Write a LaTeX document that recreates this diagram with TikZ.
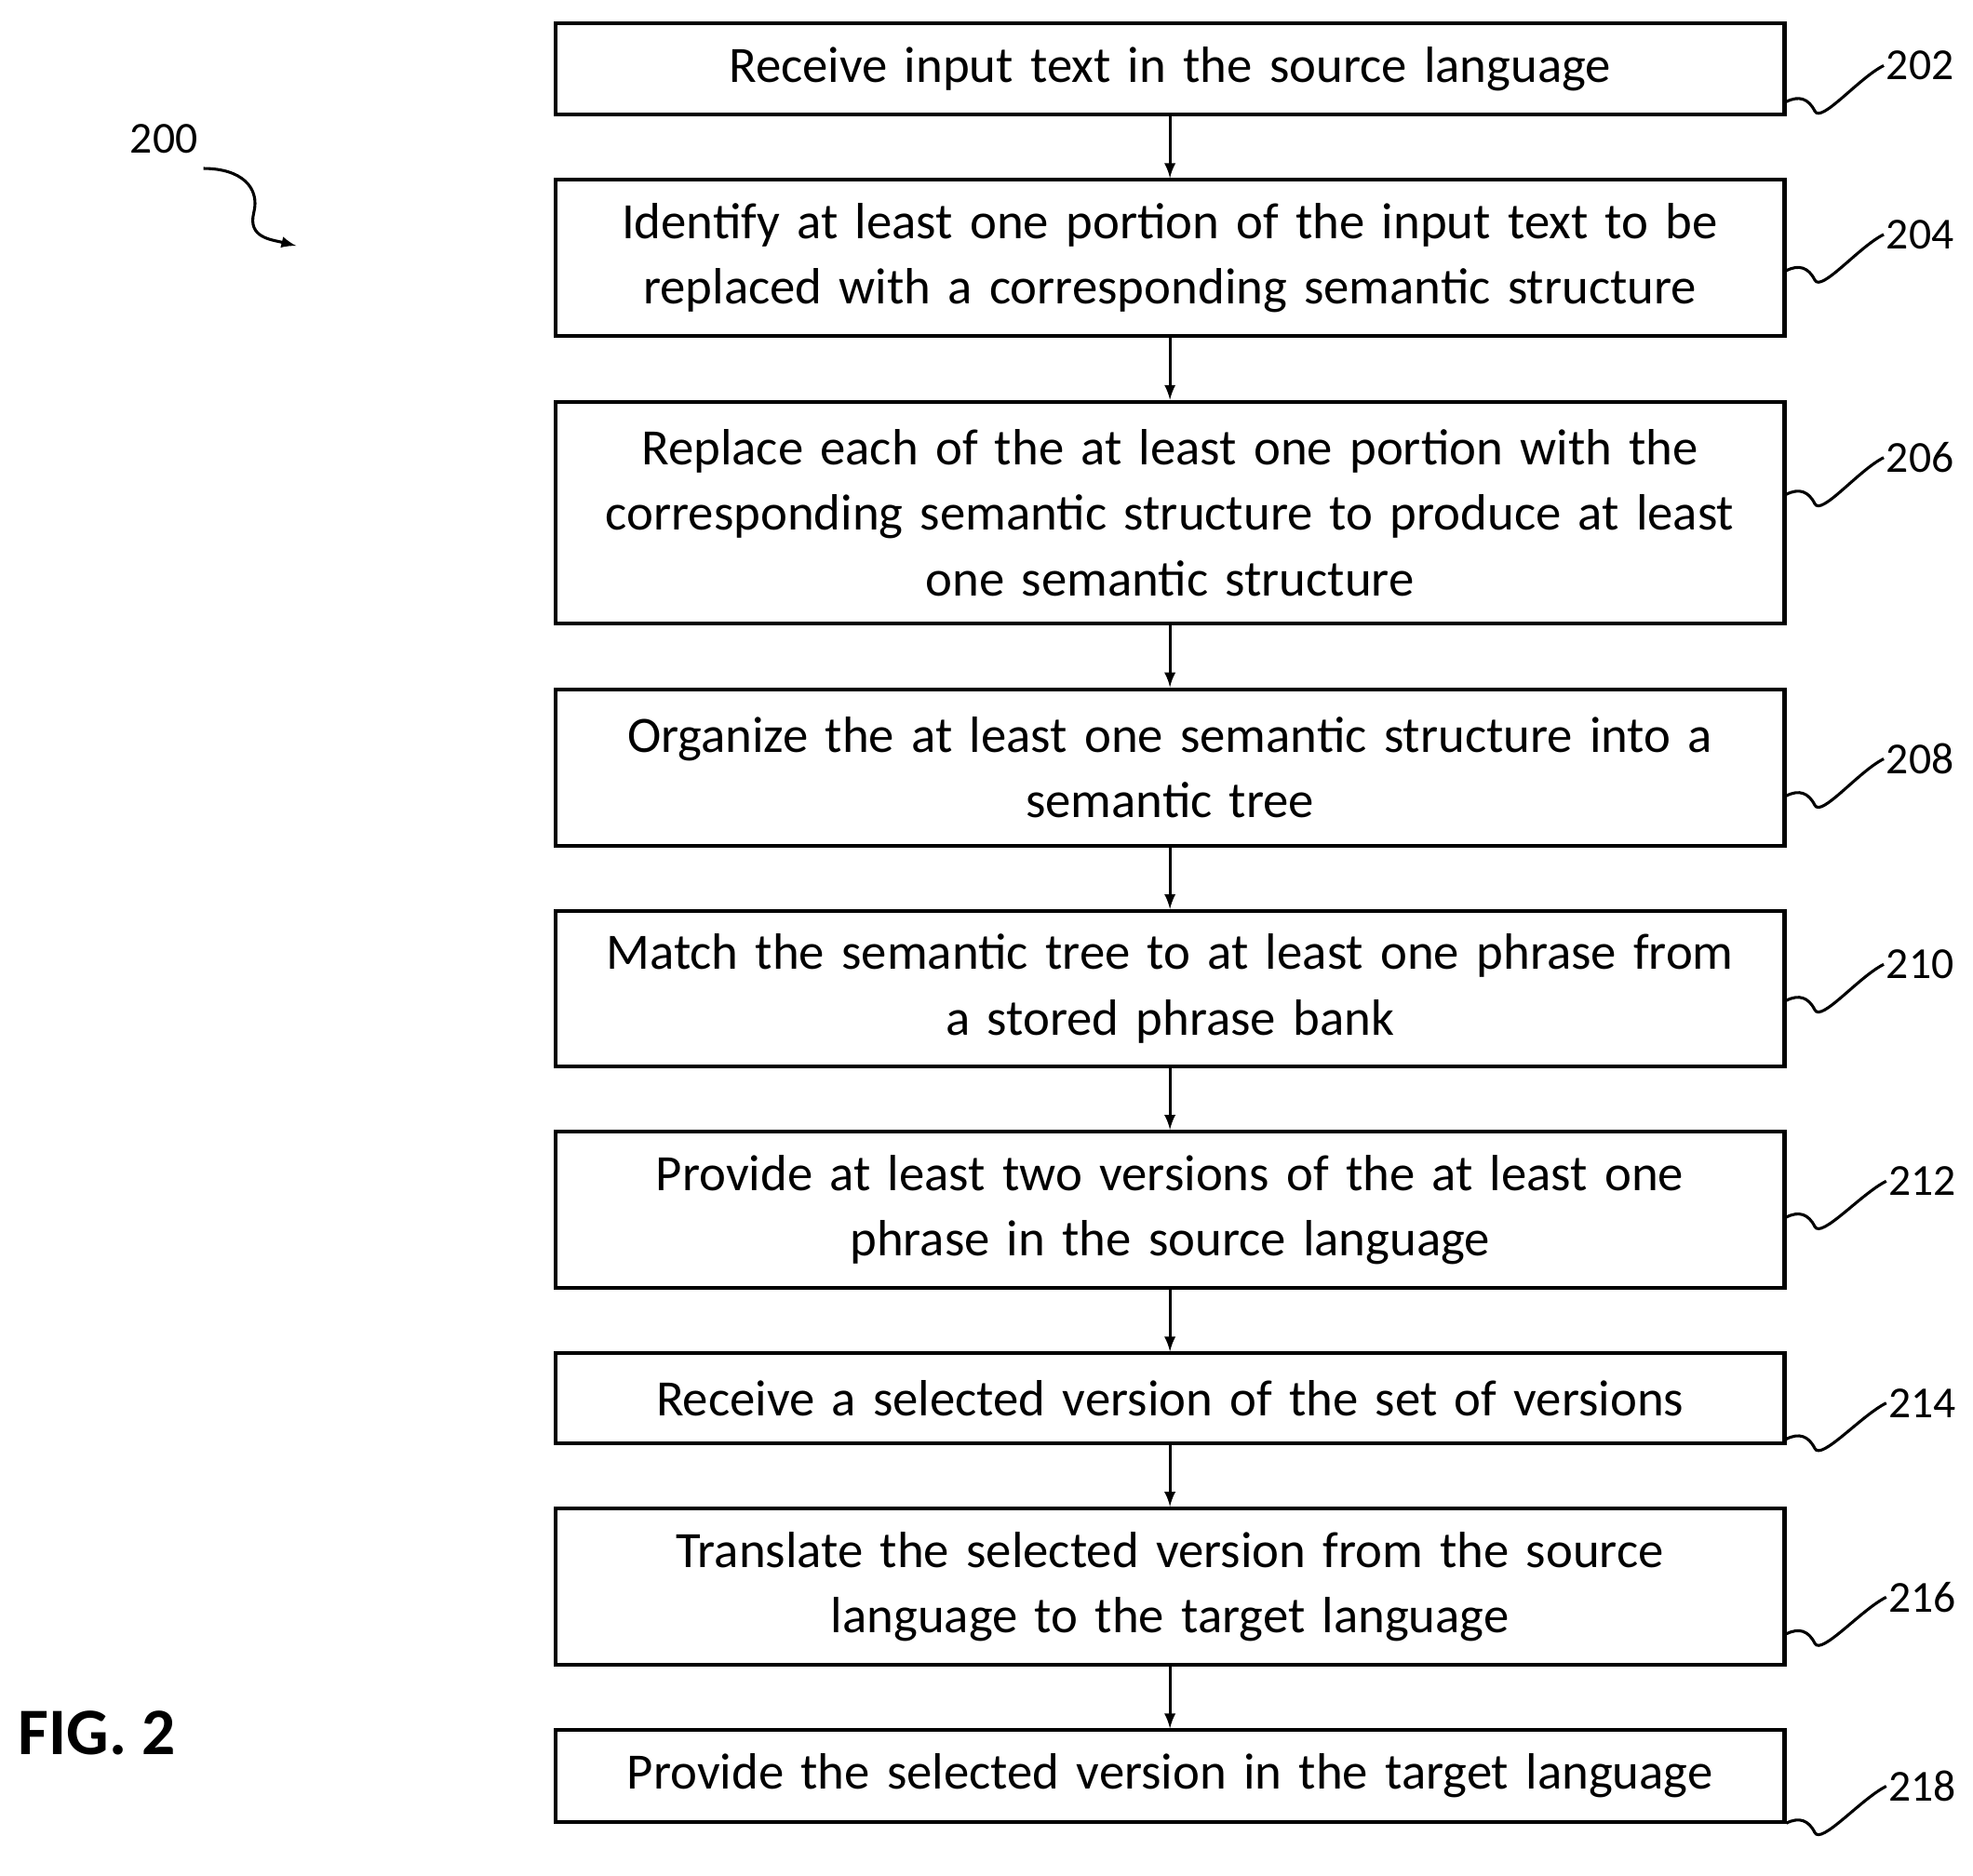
\documentclass[tikz,border=0pt]{standalone}
\usepackage{fontspec}
\setmainfont{Carlito}
\usetikzlibrary{positioning}
\tikzset{
  stepbox/.style={draw,line width=1.7pt,text width=19.5cm,align=center,
    font=\fontsize{23}{29.5}\selectfont,inner sep=0pt},
  ref/.style={font=\fontsize{20}{24}\selectfont,inner sep=1pt},
  flow/.style={line width=1.3pt,-latex},
  squig/.style={line width=1.3pt}
}
\newcommand\wiggle[2]{%
  \draw[squig] (#1.east |- #2.south) ++(0,-0.3) .. controls +(0.2,0.1) and +(-0.1,0.2) .. ++(0.45,-0.15)
    .. controls +(0.1,-0.2) and +(-0.4,-0.2) .. (#2.west);}
\begin{document}
\begin{tikzpicture}
\useasboundingbox (0,0) rectangle (31.3,-29.76);
% flow chart steps
\node[stepbox,minimum height=1.45cm] (s202) at (18.56,-1.09) {Receive input text in the source language};
\node[stepbox,minimum height=2.48cm,below=0.98cm of s202] (s204) {Identify at least one portion of the input text to be\\replaced with a corresponding semantic structure};
\node[stepbox,minimum height=3.52cm,below=0.98cm of s204] (s206) {Replace each of the at least one portion with the\\corresponding semantic structure to produce at least\\one semantic structure};
\node[stepbox,minimum height=2.48cm,below=0.98cm of s206] (s208) {Organize the at least one semantic structure into a\\semantic tree};
\node[stepbox,minimum height=2.46cm,below=0.98cm of s208] (s210) {Match the semantic tree to at least one phrase from\\a stored phrase bank};
\node[stepbox,minimum height=2.48cm,below=0.98cm of s210] (s212) {Provide at least two versions of the at least one\\phrase in the source language};
\node[stepbox,minimum height=1.42cm,below=0.98cm of s212] (s214) {Receive a selected version of the set of versions};
\node[stepbox,minimum height=2.48cm,below=0.98cm of s214] (s216) {Translate the selected version from the source\\language to the target language};
\node[stepbox,minimum height=1.45cm,below=0.98cm of s216] (s218) {Provide the selected version in the target language};
\foreach \a/\b in {202/204,204/206,206/208,208/210,210/212,212/214,214/216,216/218}
  \draw[flow] (s\a) -- (s\b);
% reference numerals
\node[ref] (l202) at (30.46,-1.04) {202};
\node[ref] (l204) at (30.46,-3.72) {204};
\node[ref] (l206) at (30.46,-7.26) {206};
\node[ref] (l208) at (30.46,-12.04) {208};
\node[ref] (l210) at (30.46,-15.3) {210};
\node[ref] (l212) at (30.5,-18.74) {212};
\node[ref] (l214) at (30.5,-22.26) {214};
\node[ref] (l216) at (30.5,-25.34) {216};
\node[ref] (l218) at (30.5,-28.34) {218};
\foreach \n in {202,204,206,208,210,212,214,216,218}
  \wiggle{s\n}{l\n};
\node[ref] (l200) at (2.6,-2.2) {200};
\coordinate (t200) at (4.7,-3.9);
\draw[squig,-latex] (l200.south east) ++(0.05,-0.2) .. controls +(0.6,0) and +(0.1,0.4) .. ++(0.8,-0.7)
  .. controls +(-0.1,-0.4) and +(-0.4,0.1) .. (t200);
\node[font=\fontsize{30}{36}\selectfont\bfseries] (fig) at (1.54,-27.5) {FIG. 2};
\end{tikzpicture}
\end{document}
